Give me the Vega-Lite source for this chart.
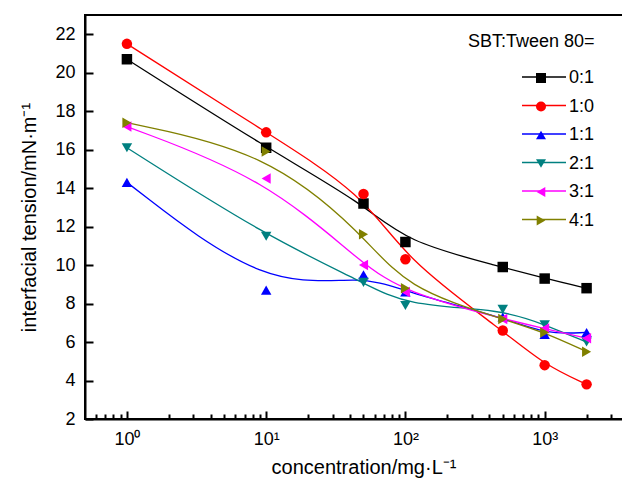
{
  "$schema": "https://vega.github.io/schema/vega-lite/v6.json",
  "width": 557,
  "height": 404,
  "autosize": {"type": "none"},
  "padding": {"left": 85, "top": 15, "right": 0, "bottom": 61},
  "background": "white",
  "config": {
    "font": "Liberation Sans",
    "view": {"stroke": "black", "strokeWidth": 2},
    "axis": {
      "grid": false,
      "domainColor": "black",
      "domainWidth": 2,
      "tickColor": "black",
      "tickWidth": 2,
      "labelFont": "Liberation Sans",
      "labelFontSize": 18,
      "labelColor": "black",
      "titleFont": "Liberation Sans",
      "titleFontSize": 20,
      "titleFontWeight": "normal",
      "titleColor": "black"
    }
  },
  "data": {
    "values": [
      {"c": 1, "t": 20.7, "ratio": "0:1"},
      {"c": 10, "t": 16.1, "ratio": "0:1"},
      {"c": 50, "t": 13.2, "ratio": "0:1"},
      {"c": 100, "t": 11.2, "ratio": "0:1"},
      {"c": 500, "t": 9.9, "ratio": "0:1"},
      {"c": 1000, "t": 9.3, "ratio": "0:1"},
      {"c": 2000, "t": 8.8, "ratio": "0:1"},
      {"c": 1, "t": 21.5, "ratio": "1:0"},
      {"c": 10, "t": 16.9, "ratio": "1:0"},
      {"c": 50, "t": 13.7, "ratio": "1:0"},
      {"c": 100, "t": 10.3, "ratio": "1:0"},
      {"c": 500, "t": 6.6, "ratio": "1:0"},
      {"c": 1000, "t": 4.8, "ratio": "1:0"},
      {"c": 2000, "t": 3.8, "ratio": "1:0"},
      {"c": 1, "t": 14.3, "ratio": "1:1"},
      {"c": 10, "t": 8.7, "ratio": "1:1"},
      {"c": 50, "t": 9.5, "ratio": "1:1"},
      {"c": 100, "t": 8.6, "ratio": "1:1"},
      {"c": 500, "t": 7.3, "ratio": "1:1"},
      {"c": 1000, "t": 6.4, "ratio": "1:1"},
      {"c": 2000, "t": 6.5, "ratio": "1:1"},
      {"c": 1, "t": 16.1, "ratio": "2:1"},
      {"c": 10, "t": 11.5, "ratio": "2:1"},
      {"c": 50, "t": 9.1, "ratio": "2:1"},
      {"c": 100, "t": 7.9, "ratio": "2:1"},
      {"c": 500, "t": 7.7, "ratio": "2:1"},
      {"c": 1000, "t": 6.9, "ratio": "2:1"},
      {"c": 2000, "t": 6.0, "ratio": "2:1"},
      {"c": 1, "t": 17.2, "ratio": "3:1"},
      {"c": 10, "t": 14.5, "ratio": "3:1"},
      {"c": 50, "t": 10.0, "ratio": "3:1"},
      {"c": 100, "t": 8.6, "ratio": "3:1"},
      {"c": 500, "t": 7.2, "ratio": "3:1"},
      {"c": 1000, "t": 6.7, "ratio": "3:1"},
      {"c": 2000, "t": 6.2, "ratio": "3:1"},
      {"c": 1, "t": 17.4, "ratio": "4:1"},
      {"c": 10, "t": 15.9, "ratio": "4:1"},
      {"c": 50, "t": 11.6, "ratio": "4:1"},
      {"c": 100, "t": 8.8, "ratio": "4:1"},
      {"c": 500, "t": 7.2, "ratio": "4:1"},
      {"c": 1000, "t": 6.5, "ratio": "4:1"},
      {"c": 2000, "t": 5.5, "ratio": "4:1"}
    ]
  },
  "layer": [
    {
      "mark": {"type": "line", "interpolate": "basis", "strokeWidth": 1.3},
      "encoding": {
        "x": {
          "field": "c", "type": "quantitative",
          "scale": {"type": "log", "domain": [0.5, 5000], "nice": false},
          "title": "concentration/mg·L⁻¹",
          "axis": {
            "values": [0.6,0.7,0.8,0.9,1,2,3,4,5,6,7,8,9,10,20,30,40,50,60,70,80,90,100,200,300,400,500,600,700,800,900,1000,2000,3000,4000,5000],
            "labelExpr": "datum.value == 1 ? '10⁰' : datum.value == 10 ? '10¹' : datum.value == 100 ? '10²' : datum.value == 1000 ? '10³' : ''",
            "tickSize": {"condition": {"test": "datum.value == 1 || datum.value == 10 || datum.value == 100 || datum.value == 1000", "value": -8}, "value": -5},
            "labelPadding": 19,
            "labelFlush": false,
            "labelOverlap": false,
            "titlePadding": 6
          }
        },
        "y": {
          "field": "t", "type": "quantitative",
          "scale": {"domain": [2, 23], "nice": false, "zero": false},
          "title": "interfacial tension/mN·m⁻¹",
          "axis": {
            "values": [2,3,4,5,6,7,8,9,10,11,12,13,14,15,16,17,18,19,20,21,22,23],
            "labelExpr": "datum.value % 2 == 0 ? datum.label : ''",
            "tickSize": {"condition": {"test": "datum.value % 2 == 0", "value": -8}, "value": -5},
            "labelPadding": 18,
            "labelOverlap": false,
            "labelFlush": false,
            "titlePadding": 15
          }
        },
        "stroke": {
          "field": "ratio", "type": "nominal",
          "scale": {"range": ["#000000","#ff0000","#0000ff","#008080","#ff00ff","#808000"]},
          "legend": {
            "orient": "none",
            "legendX": 436,
            "legendY": 53,
            "title": null,
            "symbolType": "stroke",
            "symbolSize": 1936,
            "symbolStrokeWidth": 1.3,
            "symbolOffset": 0,
            "clipHeight": 18,
            "labelFontSize": 18,
            "labelFont": "Liberation Sans",
            "labelColor": "transparent",
            "labelOffset": 4,
            "rowPadding": 10.5,
            "padding": 0
          }
        }
      }
    },
    {
      "mark": {"type": "point", "filled": true, "opacity": 1, "size": 110},
      "encoding": {
        "x": {"field": "c", "type": "quantitative"},
        "y": {"field": "t", "type": "quantitative"},
        "color": {
          "field": "ratio", "type": "nominal",
          "scale": {"domain": ["0:1","1:0","1:1","2:1","3:1","4:1"], "range": ["#000000","#ff0000","#0000ff","#008080","#ff00ff","#808000"]},
          "legend": {
            "orient": "none",
            "legendX": 383,
            "legendY": 18,
            "title": "SBT:Tween 80=",
            "titleFontSize": 18,
            "titleFontWeight": "normal",
            "titleColor": "black",
            "titleFont": "Liberation Sans",
            "titlePadding": 18,
            "labelFontSize": 18,
            "labelColor": "black",
            "labelFont": "Liberation Sans",
            "labelOffset": 19,
            "symbolOffset": 64,
            "symbolSize": 100,
            "symbolOpacity": 1,
            "clipHeight": 18,
            "rowPadding": 10.5,
            "padding": 0
          }
        },
        "shape": {
          "field": "ratio", "type": "nominal",
          "scale": {"domain": ["0:1","1:0","1:1","2:1","3:1","4:1"], "range": ["square","circle","triangle-up","triangle-down","triangle-left","triangle-right"]}
        }
      }
    }
  ]
}
